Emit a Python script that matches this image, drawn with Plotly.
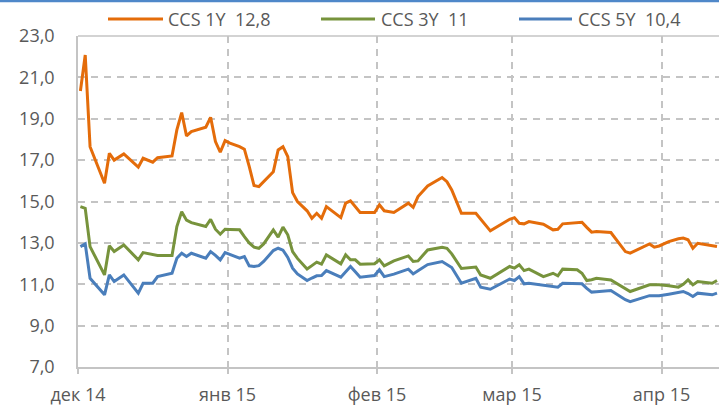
import pandas as pd
import plotly.graph_objects as go

dates = [
    "2014-12-01", "2014-12-02", "2014-12-03", "2014-12-06", "2014-12-07", "2014-12-08",
    "2014-12-10", "2014-12-13", "2014-12-14", "2014-12-16", "2014-12-17", "2014-12-20",
    "2014-12-21", "2014-12-22", "2014-12-23", "2014-12-24", "2014-12-27", "2014-12-28",
    "2014-12-29", "2014-12-30", "2014-12-31", "2015-01-01", "2015-01-03", "2015-01-04",
    "2015-01-05", "2015-01-06", "2015-01-07", "2015-01-08", "2015-01-10", "2015-01-11",
    "2015-01-12", "2015-01-13", "2015-01-14", "2015-01-15", "2015-01-17", "2015-01-18",
    "2015-01-19", "2015-01-20", "2015-01-21", "2015-01-24", "2015-01-25", "2015-01-26",
    "2015-01-27", "2015-01-28", "2015-01-31", "2015-02-01", "2015-02-02", "2015-02-04",
    "2015-02-07", "2015-02-08", "2015-02-09", "2015-02-11", "2015-02-14", "2015-02-15",
    "2015-02-16", "2015-02-18", "2015-02-21", "2015-02-22", "2015-02-24", "2015-02-28",
    "2015-03-01", "2015-03-02", "2015-03-03", "2015-03-04", "2015-03-07", "2015-03-09",
    "2015-03-10", "2015-03-11", "2015-03-14", "2015-03-15", "2015-03-16", "2015-03-17",
    "2015-03-18", "2015-03-21", "2015-03-24", "2015-03-25", "2015-03-29", "2015-03-30",
    "2015-03-31", "2015-04-02", "2015-04-04", "2015-04-05", "2015-04-06", "2015-04-07",
    "2015-04-08", "2015-04-11", "2015-04-12",
]

ccs_1y = [
    20.34, 22.08, 17.65, 15.88, 17.33, 17.00,
    17.30, 16.66, 17.09, 16.90, 17.12, 17.20,
    18.46, 19.30, 18.17, 18.38, 18.59, 19.07,
    17.90, 17.38, 17.94, 17.82, 17.65, 17.53,
    16.70, 15.77, 15.72, 15.95, 16.44, 17.49,
    17.65, 17.17, 15.43, 15.00, 14.55, 14.19,
    14.43, 14.19, 14.75, 14.22, 14.92, 15.03,
    14.75, 14.47, 14.47, 14.84, 14.55, 14.47,
    14.92, 14.72, 15.24, 15.75, 16.16, 15.96,
    15.56, 14.43, 14.43, 14.15, 13.58, 14.14,
    14.22, 13.95, 13.92, 14.03, 13.90, 13.63,
    13.66, 13.92, 13.98, 14.00, 13.75, 13.52,
    13.55, 13.50, 12.58, 12.50, 12.95, 12.79,
    12.85, 13.06, 13.20, 13.23, 13.15, 12.74,
    12.98, 12.85, 12.82,
]

ccs_3y = [
    14.75, 14.67, 12.82, 11.45, 12.86, 12.58,
    12.90, 12.18, 12.53, 12.45, 12.39, 12.39,
    13.79, 14.51, 14.10, 13.98, 13.79, 14.14,
    13.66, 13.42, 13.66, 13.65, 13.63, 13.30,
    13.00, 12.79, 12.74, 12.95, 13.63, 13.28,
    13.76, 13.39, 12.58, 12.25, 11.74, 11.90,
    12.07, 11.97, 12.42, 11.99, 12.42, 12.18,
    12.18, 11.97, 11.99, 12.18, 11.89, 12.13,
    12.37, 12.10, 12.13, 12.66, 12.79, 12.74,
    12.47, 11.76, 11.83, 11.45, 11.29, 11.86,
    11.78, 11.94, 11.66, 11.73, 11.37, 11.53,
    11.41, 11.73, 11.70, 11.53, 11.18, 11.22,
    11.29, 11.21, 10.76, 10.65, 10.97, 10.97,
    10.97, 10.93, 10.86, 11.00, 11.21, 10.97,
    11.13, 11.05, 11.18,
]

ccs_5y = [
    12.82, 12.95, 11.29, 10.49, 11.45, 11.13,
    11.45, 10.57, 11.05, 11.05, 11.37, 11.53,
    12.26, 12.50, 12.34, 12.50, 12.26, 12.58,
    12.40, 12.18, 12.53, 12.45, 12.26, 12.34,
    11.89, 11.86, 11.90, 12.10, 12.63, 12.74,
    12.65, 12.30, 11.78, 11.50, 11.18, 11.30,
    11.41, 11.42, 11.66, 11.34, 11.60, 11.86,
    11.60, 11.34, 11.42, 11.70, 11.37, 11.49,
    11.73, 11.50, 11.65, 11.95, 12.10, 11.94,
    11.81, 11.05, 11.29, 10.86, 10.76, 11.25,
    11.18, 11.37, 11.02, 11.05, 10.95, 10.90,
    10.86, 11.05, 11.03, 11.02, 10.80, 10.62,
    10.64, 10.70, 10.25, 10.16, 10.45, 10.44,
    10.44, 10.52, 10.60, 10.65, 10.55, 10.41,
    10.57, 10.49, 10.57,
]

series_names = ["CCS 1Y\u00a0\u00a012,8", "CCS 3Y\u00a0\u00a011", "CCS 5Y\u00a0\u00a010,4"]
series_colors = ["#E46C0A", "#77933C", "#4A7EBB"]

tick_dates = ["2014-12-01", "2015-01-01", "2015-02-01", "2015-03-01", "2015-04-01"]
tick_labels = ["дек 14", "янв 15", "фев 15", "мар 15", "апр 15"]
y_ticks = [7, 9, 11, 13, 15, 17, 19, 21, 23]

W, H = 719, 406
ML, MR, MT, MB = 78, 0, 36, 39
PW, PH = W - ML - MR, H - MT - MB

# Excel-style date axis: points sit mid-day between day ticks
x_vals = pd.to_datetime(dates) + pd.Timedelta(hours=12)

fig = go.Figure()
for name, vals, col in zip(series_names, [ccs_1y, ccs_3y, ccs_5y], series_colors):
    fig.add_trace(go.Scatter(
        x=x_vals, y=vals, mode="lines", name=name,
        line=dict(color=col, width=3, shape="linear"),
        showlegend=False, hoverinfo="skip",
    ))

TXT = "#595959"
GRID = "#C4C4C4"
FONT = "Open Sans"

# manual legend (Excel style, long line samples)
leg_y_px = 19
leg_items = [(108, 163, 167), (321, 375, 380), (519, 572, 577)]
shapes = []
annotations = []
for (x0, x1, xt), name, col in zip(leg_items, series_names, series_colors):
    yp = 1 + (MT - leg_y_px) / PH
    shapes.append(dict(type="line", xref="paper", yref="paper",
                       x0=(x0 - ML) / PW, x1=(x1 - ML) / PW, y0=yp, y1=yp,
                       line=dict(color=col, width=3)))
    annotations.append(dict(text=name, xref="paper", yref="paper",
                            x=(xt - ML) / PW, y=yp, xanchor="left", yanchor="middle",
                            showarrow=False, font=dict(family=FONT, size=18, color=TXT),
                            borderpad=0))

# solid top border of plot area (at y = 23)
shapes.append(dict(type="line", xref="paper", yref="paper", x0=0, x1=1, y0=1, y1=1,
                   line=dict(color=GRID, width=1.5)))
# blue frame line at very top of the image
shapes.append(dict(type="line", xref="paper", yref="paper", x0=-ML / PW, x1=1,
                   y0=1 + (MT - 1) / PH, y1=1 + (MT - 1) / PH,
                   line=dict(color="#4F88C9", width=2.5)))

fig.update_layout(
    width=W, height=H,
    margin=dict(l=ML, r=MR, t=MT, b=MB, pad=0, autoexpand=False),
    paper_bgcolor="white", plot_bgcolor="white",
    separators=", ",
    font=dict(family=FONT, size=18, color=TXT),
    shapes=shapes, annotations=annotations,
    showlegend=False,
)

fig.update_xaxes(
    type="date", automargin=False,
    range=["2014-12-01 00:00", "2015-04-12 22:00"],
    tickmode="array", tickvals=tick_dates, ticktext=tick_labels,
    showgrid=True, gridcolor=GRID, gridwidth=1.5, griddash="7px,6px",
    showline=True, linecolor=GRID, linewidth=1.5,
    ticks="outside", ticklen=5, tickcolor=GRID, tickwidth=1.5,
    ticklabelstandoff=6,
    tickfont=dict(family=FONT, size=18, color=TXT),
    zeroline=False, fixedrange=True,
)
fig.update_yaxes(
    automargin=False,
    range=[7, 23],
    tickmode="array", tickvals=y_ticks, tickformat=".1f",
    showgrid=True, gridcolor=GRID, gridwidth=1.5, griddash="7px,6px",
    showline=True, linecolor=GRID, linewidth=1.5,
    ticks="", ticklabelstandoff=18,
    tickfont=dict(family=FONT, size=18, color=TXT),
    zeroline=False, fixedrange=True,
)

fig.write_html(
    "out.html",
    config={"displayModeBar": False},
    post_script="document.body.style.margin='0';document.body.style.overflow='hidden';",
)
